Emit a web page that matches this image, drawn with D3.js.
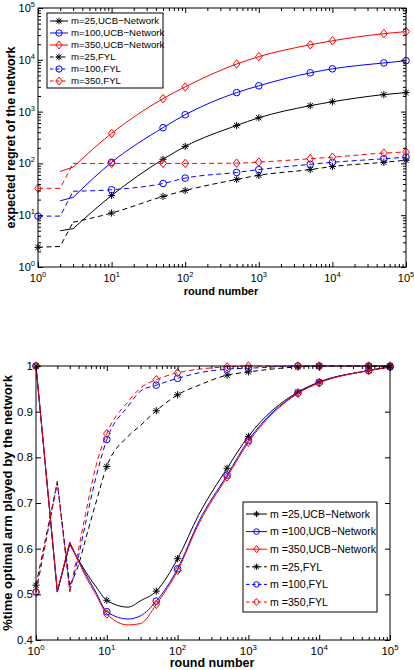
<!DOCTYPE html>
<html>
<head>
<meta charset="utf-8">
<script src="https://cdn.jsdelivr.net/npm/d3@7"></script>
<style>
  body { margin: 0; background: #fff; }
  svg { font-family: "Liberation Sans", Arial, Helvetica, sans-serif; }
</style>
</head>
<body>
<svg id="chart" width="414" height="670"></svg>
<script>
// ---------- data ----------
// top panel: expected regret
const regretRounds = [1, 2, 3, 10, 50, 100, 500, 1000, 5000, 10000, 50000, 100000];
const ucbRegret25  = [null, 5.0, 5.5, 24, 120, 213, 540, 760, 1300, 1550, 2130, 2330];
const ucbRegret100 = [null, 19, 22, 105, 490, 870, 2330, 3150, 5600, 6700, 8700, 9600];
const ucbRegret350 = [null, 70, 85, 380, 1780, 3000, 8300, 11500, 19500, 23300, 32000, 35000];
const fylRegret25  = [2.4, 2.5, 7.3, 11, 23, 30, 49, 59, 76, 87, 105, 115];
const fylRegret100 = [9.6, 9.6, 29, 31, 41, 52, 67, 76, 96, 105, 123, 132];
const fylRegret350 = [33, 33, 100, 100, 100, 100, 101, 106, 123, 132, 158, 166];

// bottom panel: fraction of time the optimal arm is played
const optRounds = [1, 2, 3, 4, 5, 7, 10, 20, 30, 50, 100, 200, 500, 1000, 5000, 10000, 50000, 100000];
const ucbOpt25  = [1.0, 0.505, 0.61, 0.575, 0.55, 0.517, 0.487, 0.472, 0.486, 0.507, 0.578, 0.675, 0.776, 0.846, 0.943, 0.965, 0.99, 0.998];
const ucbOpt100 = [1.0, 0.505, 0.612, 0.572, 0.545, 0.505, 0.462, 0.446, 0.453, 0.485, 0.556, 0.66, 0.761, 0.837, 0.941, 0.964, 0.99, 0.998];
const ucbOpt350 = [1.0, 0.507, 0.615, 0.572, 0.54, 0.50, 0.457, 0.433, 0.436, 0.478, 0.552, 0.655, 0.757, 0.833, 0.94, 0.963, 0.99, 0.998];
const fylOpt25  = [0.52, 0.745, 0.52, 0.565, 0.62, 0.70, 0.78, 0.846, 0.87, 0.902, 0.937, 0.958, 0.98, 0.987, 0.998, 1.0, 1.0, 1.0];
const fylOpt100 = [0.505, 0.745, 0.508, 0.585, 0.655, 0.755, 0.839, 0.912, 0.945, 0.958, 0.973, 0.985, 0.993, 0.995, 1.0, 1.0, 1.0, 1.0];
const fylOpt350 = [0.505, 0.748, 0.505, 0.60, 0.675, 0.78, 0.852, 0.922, 0.952, 0.97, 0.985, 0.993, 0.998, 1.0, 1.0, 1.0, 1.0, 1.0];

// rounds where a marker is drawn
const markerRounds = [1, 10, 50, 100, 500, 1000, 5000, 10000, 50000, 100000];

const legendLabels = ["m=25,UCB\u2212Network", "m=100,UCB\u2212Network", "m=350,UCB\u2212Network",
                      "m=25,FYL", "m=100,FYL", "m=350,FYL"];
const legendLabelsBottom = ["m =25,UCB\u2212Network", "m =100,UCB\u2212Network", "m =350,UCB\u2212Network",
                            "m =25,FYL", "m =100,FYL", "m =350,FYL"];

const roundTicks = [1, 10, 100, 1000, 10000, 100000];
const regretTicks = [1, 10, 100, 1000, 10000, 100000];
const optTicks = [0.4, 0.5, 0.6, 0.7, 0.8, 0.9, 1];

// ---------- styles ----------
const seriesStyle = [
    {color: "#000000", dash: null, marker: "star"},
    {color: "#0000ff", dash: null, marker: "circle"},
    {color: "#ff0000", dash: null, marker: "diamond"},
    {color: "#000000", dash: "5,3.5", marker: "star"},
    {color: "#0000ff", dash: "5,3.5", marker: "circle"},
    {color: "#ff0000", dash: "5,3.5", marker: "diamond"}
];

const svg = d3.select("#chart");

function drawMarker(g, st, cx, cy, s) {
    if (st.marker === "circle") {
        g.append("circle").attr("cx", cx).attr("cy", cy).attr("r", 3.3 * s)
            .attr("fill", "none").attr("stroke", st.color).attr("stroke-width", 1);
        return;
    }
    let d;
    if (st.marker === "star") {
        let a = 3.6 * s, k = 2.6 * s;
        d = "M" + (-a) + ",0H" + a + "M0," + (-a) + "V" + a +
            "M" + (-k) + "," + (-k) + "L" + k + "," + k + "M" + (-k) + "," + k + "L" + k + "," + (-k);
    } else {
        let w = 3.4 * s, h = 4.2 * s;
        d = "M0," + (-h) + "L" + w + ",0L0," + h + "L" + (-w) + ",0Z";
    }
    g.append("path").attr("d", d).attr("transform", "translate(" + cx + "," + cy + ")")
        .attr("fill", "none").attr("stroke", st.color).attr("stroke-width", 1);
}

function logMinor(lo, hi) {
    let out = [];
    for (let k = lo; k < hi; k++) {
        for (let j = 2; j <= 9; j++) out.push(j * Math.pow(10, k));
    }
    return out;
}

function panel(cfg) {
    let b = cfg.box;
    let x = d3.scaleLog().domain([1, 1e5]).range([b.left, b.right]);
    let y = cfg.y;
    let g = svg.append("g");

    // series
    cfg.series.forEach(function(vals, i) {
        let st = seriesStyle[i];
        let pts = cfg.rounds.map(function(r, j) { return {r: r, v: vals[j]}; })
            .filter(function(d) { return d.v != null; });
        let early = pts.filter(function(d) { return d.r <= 3; });
        let late = pts.filter(function(d) { return d.r >= 3; });
        let lineLin = d3.line().x(function(d) { return x(d.r); }).y(function(d) { return y(d.v); });
        let lineSmooth = d3.line().x(function(d) { return x(d.r); }).y(function(d) { return y(d.v); })
            .curve(d3.curveMonotoneX);
        [[early, lineLin], [late, lineSmooth]].forEach(function(p) {
            if (p[0].length < 2) return;
            g.append("path").attr("d", p[1](p[0]))
                .attr("fill", "none")
                .attr("stroke", st.color)
                .attr("stroke-width", 1)
                .attr("stroke-dasharray", st.dash);
        });
        pts.filter(function(d) { return markerRounds.indexOf(d.r) >= 0; })
            .forEach(function(d) { drawMarker(g, st, x(d.r), y(d.v), 1); });
    });

    // box
    g.append("rect").attr("x", b.left).attr("y", b.top)
        .attr("width", b.right - b.left).attr("height", b.bottom - b.top)
        .attr("fill", "none").attr("stroke", "#000").attr("stroke-width", 1);

    // x ticks, inside, bottom and top
    let xMinor = logMinor(0, 5);
    [[d3.axisBottom, b.bottom], [d3.axisTop, b.top]].forEach(function(a) {
        g.append("g").attr("transform", "translate(0," + a[1] + ")")
            .call(a[0](x).tickValues(roundTicks).tickSize(-5).tickFormat(""))
            .call(function(s) { s.select(".domain").remove(); });
        g.append("g").attr("transform", "translate(0," + a[1] + ")")
            .call(a[0](x).tickValues(xMinor).tickSize(-3).tickFormat(""))
            .call(function(s) { s.select(".domain").remove(); });
    });

    // y ticks, inside, left and right
    [[d3.axisLeft, b.left], [d3.axisRight, b.right]].forEach(function(a) {
        g.append("g").attr("transform", "translate(" + a[1] + ",0)")
            .call(a[0](y).tickValues(cfg.yTicks).tickSize(-5).tickFormat(""))
            .call(function(s) { s.select(".domain").remove(); });
        if (cfg.yMinor) {
            g.append("g").attr("transform", "translate(" + a[1] + ",0)")
                .call(a[0](y).tickValues(cfg.yMinor).tickSize(-3).tickFormat(""))
                .call(function(s) { s.select(".domain").remove(); });
        }
    });

    // x tick labels 10^k
    roundTicks.forEach(function(t) {
        let txt = g.append("text").attr("x", x(t)).attr("y", cfg.xLabelY)
            .attr("text-anchor", "middle").attr("font-size", cfg.tickFont).text("10");
        txt.append("tspan").attr("dy", -cfg.tickFont * 0.45).attr("font-size", cfg.tickFont * 0.68)
            .text(Math.round(Math.log10(t)));
    });

    // y tick labels
    cfg.yTicks.forEach(function(t) {
        let txt = g.append("text").attr("x", b.left - 3).attr("y", y(t) + cfg.tickFont * 0.36)
            .attr("text-anchor", "end").attr("font-size", cfg.tickFont);
        if (cfg.yLog) {
            txt.text("10");
            txt.append("tspan").attr("dy", -cfg.tickFont * 0.45).attr("font-size", cfg.tickFont * 0.68)
                .text(Math.round(Math.log10(t)));
        } else {
            txt.text(t === 1 ? "1" : d3.format(".1f")(t));
        }
    });

    // axis titles
    g.append("text").attr("x", (b.left + b.right) / 2 - 1).attr("y", cfg.xTitleY)
        .attr("text-anchor", "middle").attr("font-weight", "bold").attr("font-size", cfg.xTitleFont)
        .text("round number");
    g.append("text")
        .attr("transform", "translate(" + cfg.yTitleX + "," + (b.top + b.bottom) / 2 + ") rotate(-90)")
        .attr("text-anchor", "middle").attr("font-weight", "bold").attr("font-size", cfg.yTitleFont)
        .text(cfg.yTitle);

    // legend
    let L = cfg.legend;
    g.append("rect").attr("x", L.left).attr("y", L.top)
        .attr("width", L.right - L.left).attr("height", L.bottom - L.top)
        .attr("fill", "#fff").attr("stroke", "#000").attr("stroke-width", 1);
    L.labels.forEach(function(lab, i) {
        let st = seriesStyle[i];
        let yy = L.y0 + i * L.dy;
        g.append("line").attr("x1", L.x0).attr("x2", L.x1).attr("y1", yy).attr("y2", yy)
            .attr("stroke", st.color).attr("stroke-width", 1)
            .attr("stroke-dasharray", st.dash ? "3.5,2.5" : null);
        drawMarker(g, st, (L.x0 + L.x1) / 2, yy, L.markerScale);
        g.append("text").attr("x", L.tx).attr("y", yy + L.font * 0.36)
            .attr("font-size", L.font).text(lab);
    });
}

// ---------- top panel ----------
panel({
    box: {left: 38, right: 406, top: 8, bottom: 267},
    y: d3.scaleLog().domain([1, 1e5]).range([267, 8]),
    yLog: true,
    yTicks: regretTicks,
    yMinor: logMinor(0, 5),
    rounds: regretRounds,
    series: [ucbRegret25, ucbRegret100, ucbRegret350, fylRegret25, fylRegret100, fylRegret350],
    tickFont: 11,
    xLabelY: 282,
    xTitleY: 295,
    xTitleFont: 11,
    yTitleX: 15,
    yTitleFont: 12.5,
    yTitle: "expected regret of the network",
    legend: {left: 47, right: 163, top: 13, bottom: 88, y0: 21, dy: 12,
             x0: 50, x1: 68, tx: 71, font: 9.6, markerScale: 0.95, labels: legendLabels}
});

// ---------- bottom panel ----------
panel({
    box: {left: 36, right: 390, top: 366, bottom: 640},
    y: d3.scaleLinear().domain([0.4, 1]).range([640, 366]),
    yLog: false,
    yTicks: optTicks,
    yMinor: null,
    rounds: optRounds,
    series: [ucbOpt25, ucbOpt100, ucbOpt350, fylOpt25, fylOpt100, fylOpt350],
    tickFont: 11.5,
    xLabelY: 655,
    xTitleY: 667,
    xTitleFont: 12.5,
    yTitleX: 12,
    yTitleFont: 13,
    yTitle: "%time optimal arm played by the network",
    legend: {left: 243, right: 377, top: 502, bottom: 612, y0: 514, dy: 17.6,
             x0: 246, x1: 267, tx: 270, font: 10.6, markerScale: 0.85, labels: legendLabelsBottom}
});
</script>
</body>
</html>
